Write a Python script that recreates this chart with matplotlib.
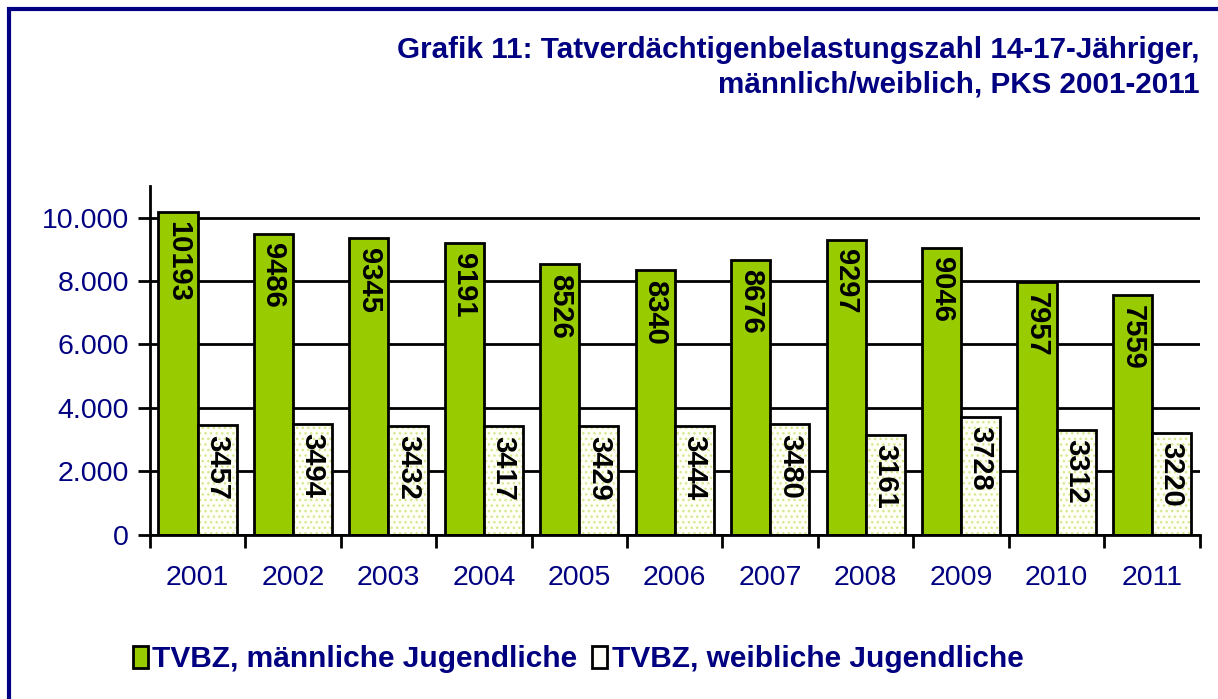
import numpy as np
import matplotlib
matplotlib.use("Agg")
import matplotlib.pyplot as plt
from matplotlib.patches import Rectangle, Patch

plt.rcParams['font.family'] = ['Liberation Sans', 'DejaVu Sans']
plt.rcParams['hatch.linewidth'] = 1.0
plt.rcParams['hatch.color'] = "#d4e98f"

# Daten (PKS 2001-2011)
jahre = ["2001", "2002", "2003", "2004", "2005", "2006", "2007", "2008", "2009", "2010", "2011"]
maennlich = [10193, 9486, 9345, 9191, 8526, 8340, 8676, 9297, 9046, 7957, 7559]
weiblich = [3457, 3494, 3432, 3417, 3429, 3444, 3480, 3161, 3728, 3312, 3220]
y_ticks = [0, 2000, 4000, 6000, 8000, 10000]
y_labels = ["0", "2.000", "4.000", "6.000", "8.000", "10.000"]

navy = "#000080"
gruen = "#99cc00"
creme = "#fffff8"

fig = plt.figure(figsize=(12.18, 6.99), dpi=100)
ax = fig.add_axes([0.123, 0.235, 0.862, 0.499])

# Rahmen um die ganze Grafik
fig.patches.append(Rectangle((9/1218, -0.1), 1.2, 1 - 9/699 + 0.1, transform=fig.transFigure,
                             fill=False, edgecolor=navy, linewidth=3))

x = np.arange(len(jahre))
w = 0.41
b1 = ax.bar(x - w/2, maennlich, w, color=gruen, edgecolor="black", linewidth=2, zorder=3)
b2 = ax.bar(x + w/2, weiblich, w, color=creme, linewidth=0, hatch="...", zorder=3)
# schwarzer Rand für weiße Balken
ax.bar(x + w/2, weiblich, w, fill=False, edgecolor="black", linewidth=2, zorder=4)

for rect, v in zip(list(b1) + list(b2), maennlich + weiblich):
    ax.text(rect.get_x() + rect.get_width()/2, v - 300, str(v), rotation=-90,
            ha="center", va="top", fontsize=21, fontweight="bold", color="black", zorder=5)

ax.set_xlim(-0.5, len(jahre) - 0.5)
ax.set_ylim(0, 11000)
ax.set_yticks(y_ticks)
ax.set_yticklabels(y_labels)
ax.set_xticks(x)
ax.set_xticklabels(jahre)
ax.set_xticks(np.arange(len(jahre) + 1) - 0.5, minor=True)
ax.tick_params(axis="x", which="major", length=0, pad=22, labelsize=20.5, labelcolor=navy)
ax.tick_params(axis="x", which="minor", length=9, width=2, direction="out", color="black")
ax.tick_params(axis="y", length=9, width=2, direction="out", pad=6, labelsize=20.5, labelcolor=navy)

ax.grid(axis="y", color="black", linewidth=2, zorder=0)
for s in ["top", "right"]:
    ax.spines[s].set_visible(False)
for s in ["left", "bottom"]:
    ax.spines[s].set_linewidth(2)
    ax.spines[s].set_zorder(6)

fig.text(0.985, 0.904, "Grafik 11: Tatverdächtigenbelastungszahl 14-17-Jähriger,\nmännlich/weiblich, PKS 2001-2011",
         ha="right", va="center", fontsize=21.3, fontweight="bold", color=navy, linespacing=1.32)

handles = [Patch(facecolor=gruen, edgecolor="black", linewidth=2),
           Patch(facecolor=creme, edgecolor="black", linewidth=2)]
fig.legend(handles, ["TVBZ, männliche Jugendliche", "TVBZ, weibliche Jugendliche"],
           loc="center left", bbox_to_anchor=(0.087, 0.057), ncol=2, frameon=False,
           handlelength=0.5, handleheight=0.75, handletextpad=0.15, columnspacing=0.5,
           prop={"size": 21.5, "weight": "bold"}, labelcolor=navy)

fig.savefig("out.png", dpi=100)
